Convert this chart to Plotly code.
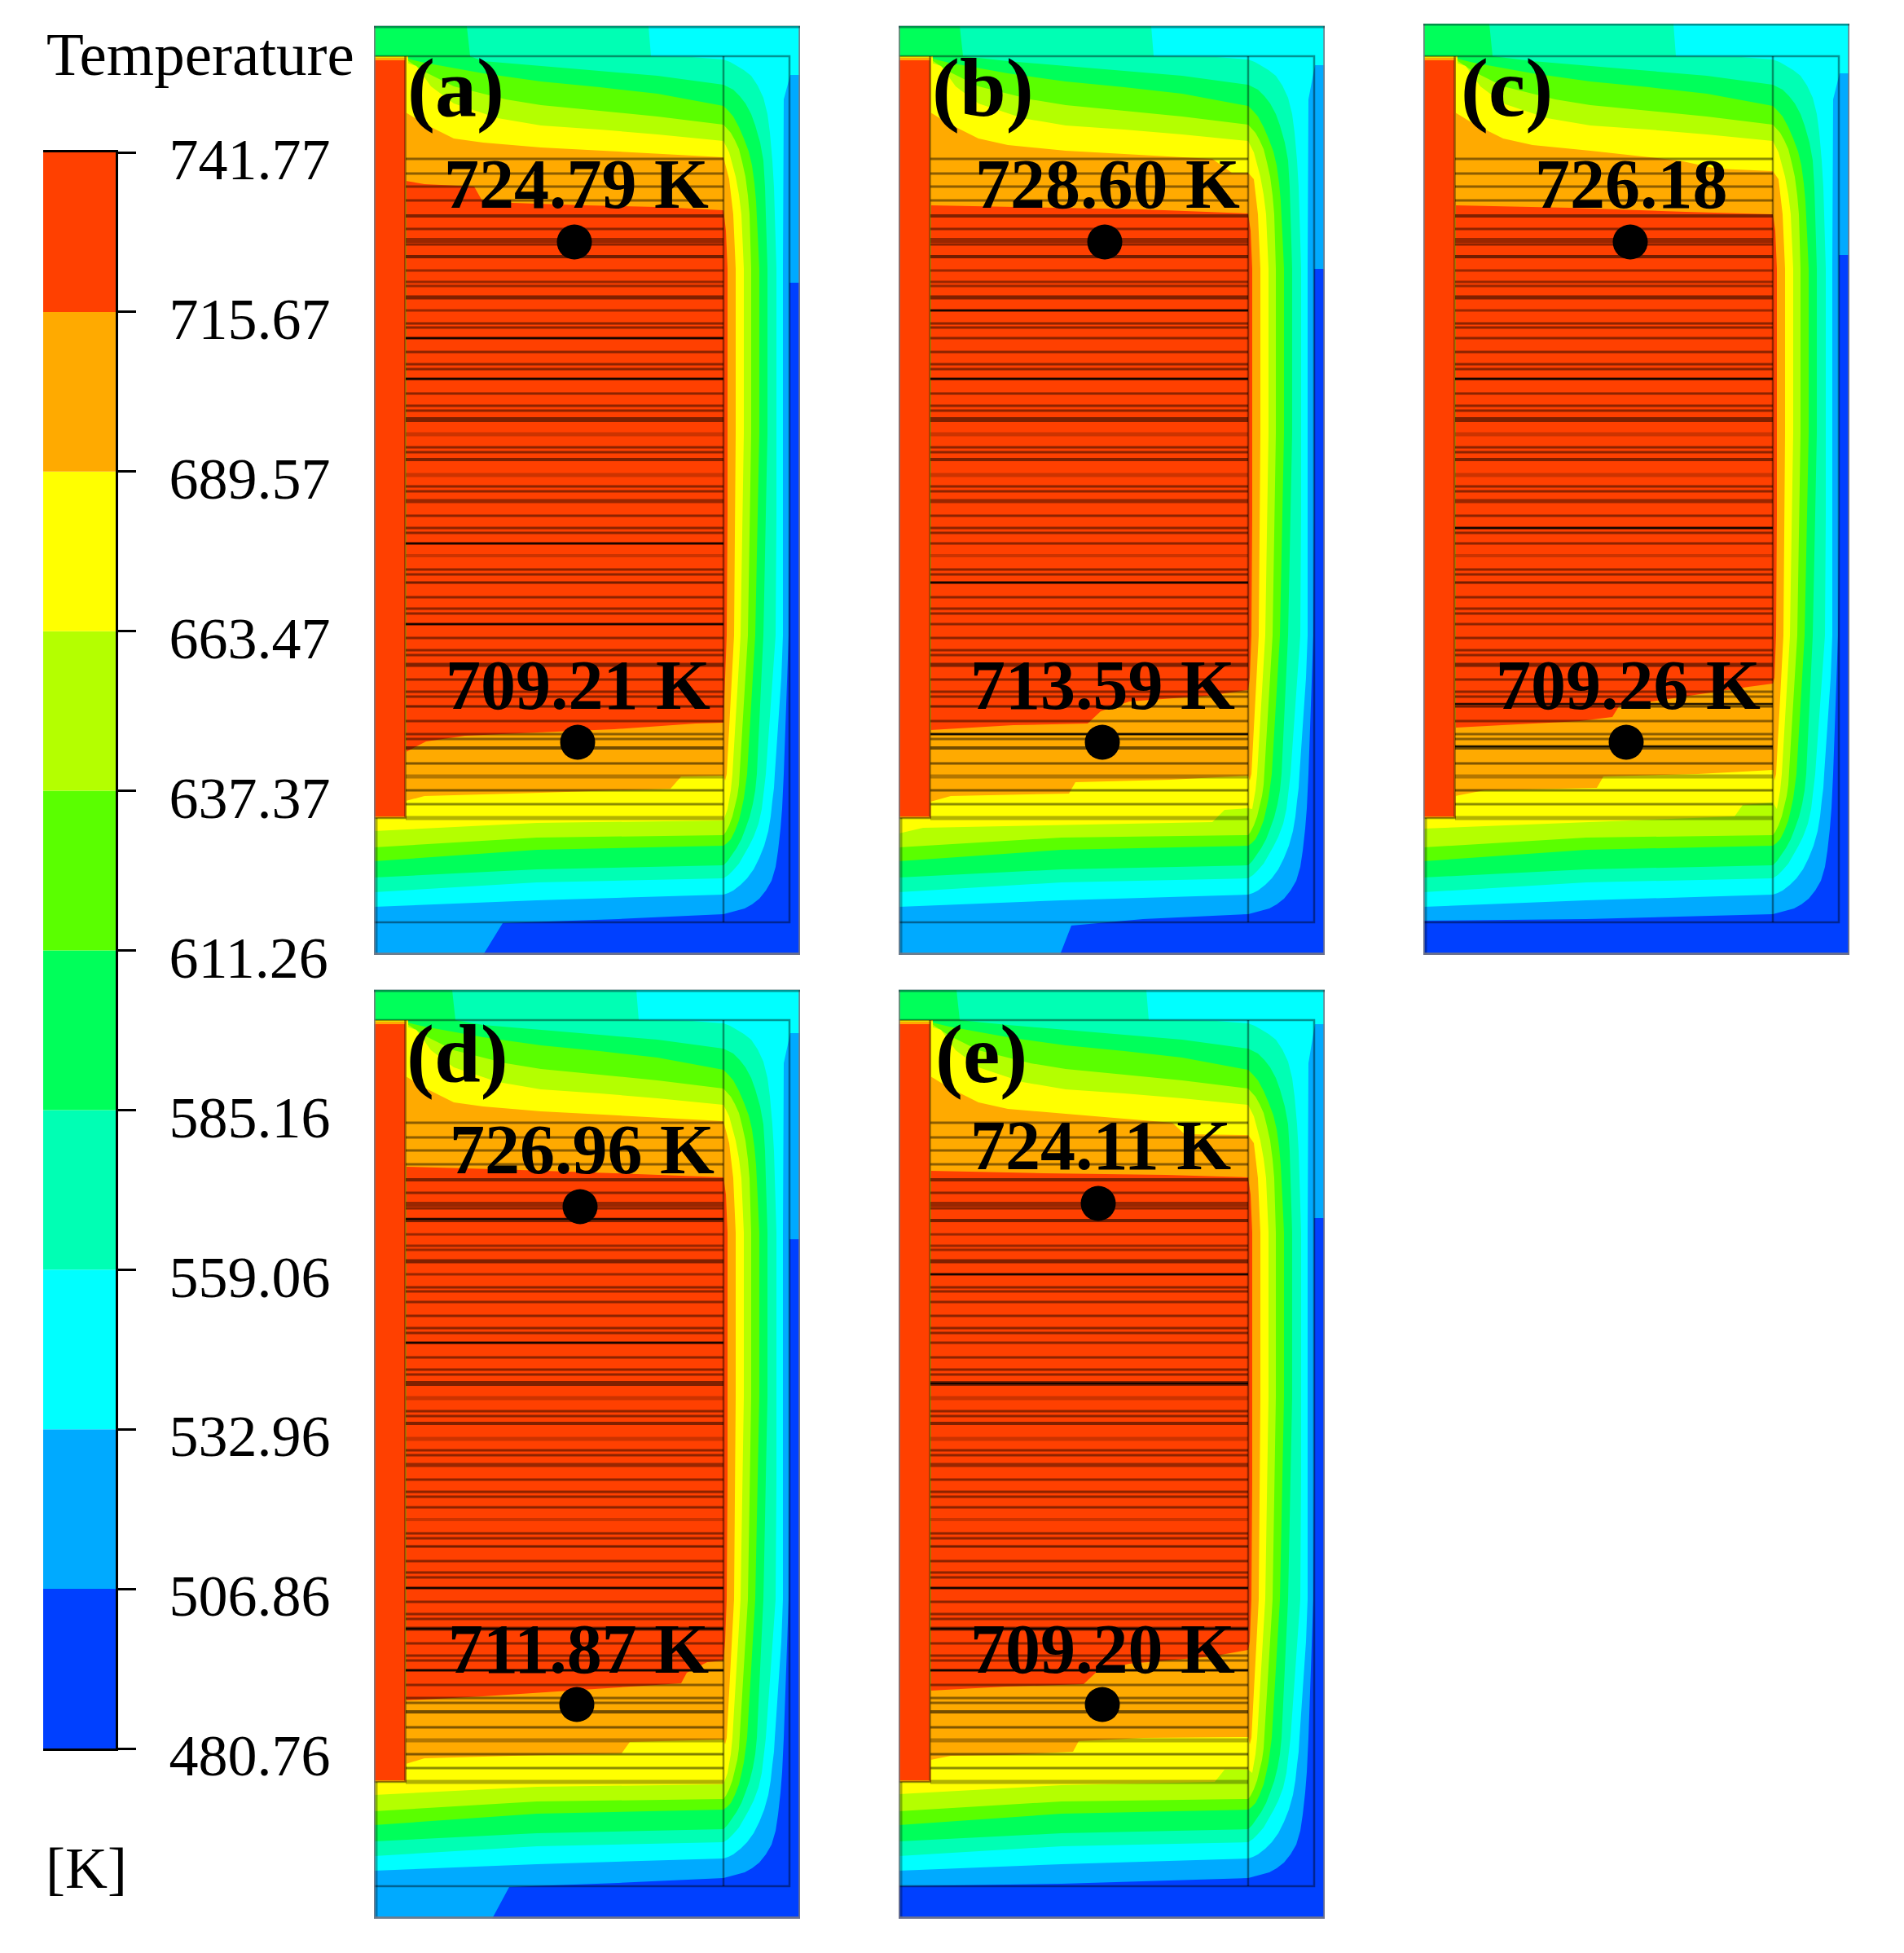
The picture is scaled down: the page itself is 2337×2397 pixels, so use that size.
import plotly.graph_objects as go

W, H = 2337, 2397
PW, PH = 523, 1140

# ---- colour legend -------------------------------------------------------
levels = [480.76, 506.86, 532.96, 559.06, 585.16, 611.26, 637.37, 663.47, 689.57, 715.67, 741.77]
level_text = ["480.76", "506.86", "532.96", "559.06", "585.16", "611.26", "637.37", "663.47", "689.57", "715.67", "741.77"]
band_colors = ["#0040FF", "#00AAFF", "#00FFFF", "#00FFB4", "#00FF5A", "#5AFF00", "#B4FF00", "#FFFF00", "#FFAA00", "#FF4000"]

# ---- panels --------------------------------------------------------------
panel_names = ["(a)", "(b)", "(c)", "(d)", "(e)"]
panel_x0 = [459, 1103, 1747, 459, 1103]
panel_y0 = [32, 32, 32, 1215, 1215]
panel_top = [0, 0, -3, 0, 0]
label_pos = [(100, 76), (103, 76), (102, 76), (102, 78), (101, 78)]

top_text = ["724.79 K", "728.60 K", "726.18", "726.96 K", "724.11 K"]
top_text_pos = [(248, 194), (256, 194), (255, 194), (255, 196), (248, 191)]
bot_text = ["709.21 K", "713.59 K", "709.26 K", "711.87 K", "709.20 K"]
bot_text_pos = [(250, 809), (250, 809), (251, 809), (251, 809), (250, 809)]
dot_top = [(246, 265), (253, 265), (254, 265), (253, 266), (245, 262)]
dot_bot = [(250, 879), (250, 879), (249, 879), (249, 877), (250, 877)]

# per panel features of the temperature field (panel pixel units)
strip_559 = [337, 310, 307, 322, 304]
strip_585 = [114, 75, 81, 96, 71]
lightblue_top = [60, 48, 58, 53, 42]
blue_top = [315, 298, 281, 306, 280]

floor_507_a = [(300, 1096), (158, 1101), (134, 1140), (0, 1140)]
floor_507_b = [(300, 1096), (212, 1104), (198, 1140), (0, 1140)]
floor_507_c = [(200, 1096), (0, 1098)]
floor_507_d = [(300, 1096), (166, 1101), (145, 1140), (0, 1140)]
floor_507_e = [(200, 1097), (0, 1100)]
floor_507 = [floor_507_a, floor_507_b, floor_507_c, floor_507_d, floor_507_e]

# outer arcs of each isotherm
arc_507 = [(510, 600), (509, 748), (503, 918), (502, 940), (501, 960), (499, 985), (496, 1012), (493, 1032), (488, 1049), (481, 1061), (473, 1071), (464, 1078), (455, 1083), (444, 1086), (436, 1088), (429, 1090)]
arc_533 = [(503, 90), (502, 298), (502, 748), (500, 800), (492, 918), (491, 935), (489, 951), (487, 970), (484, 988), (479, 1006), (473, 1021), (466, 1035), (458, 1046), (450, 1054), (441, 1061), (435, 1064), (429, 1066), (200, 1073), (0, 1081)]
arc_559 = [(390, 38), (429, 41), (437, 44), (444, 48), (454, 54), (463, 61), (471, 73), (478, 88), (483, 108), (486, 131), (489, 165), (491, 198), (494, 298), (494, 600), (493, 748), (481, 918), (479, 935), (476, 961), (472, 979), (466, 995), (460, 1007), (454, 1018), (448, 1028), (441, 1036), (435, 1042), (429, 1046), (200, 1051), (0, 1063)]
arc_585 = [(134, 43), (241, 52), (348, 61), (429, 72), (435, 75), (441, 78), (449, 86), (456, 95), (463, 108), (468, 122), (474, 143), (478, 165), (480, 198), (481, 231), (483, 298), (483, 500), (478, 748), (470, 918), (468, 938), (465, 955), (461, 971), (456, 985), (451, 998), (445, 1009), (439, 1018), (434, 1025), (429, 1030), (200, 1035), (0, 1045)]
arc_611 = [(0, 37), (41, 40), (62, 45), (134, 58), (205, 68), (277, 75), (348, 83), (429, 98), (435, 104), (441, 111), (448, 124), (454, 138), (460, 154), (464, 171), (467, 193), (469, 215), (471, 255), (473, 298), (473, 500), (468, 748), (458, 918), (454, 948), (451, 962), (448, 975), (443, 988), (438, 998), (433, 1003), (429, 1006), (200, 1011), (0, 1025)]
arc_637 = [(0, 37), (41, 42), (62, 56), (98, 74), (162, 90), (205, 97), (277, 104), (348, 111), (429, 121), (438, 131), (443, 140), (448, 151), (452, 167), (456, 185), (459, 208), (461, 231), (463, 298), (463, 500), (459, 748), (449, 918), (448, 931), (446, 945), (443, 958), (440, 970), (436, 981), (432, 989), (429, 993), (200, 996), (0, 1008)]
arc_663 = [(0, 37), (40, 45), (52, 49), (70, 74), (98, 95), (152, 113), (205, 122), (277, 127), (348, 133), (429, 141), (436, 155), (440, 169), (444, 185), (448, 207), (451, 231), (454, 298), (454, 500), (450, 748), (440, 918), (438, 938), (434, 961)]
floor_663_a = [(429, 975), (200, 978), (0, 988)]
floor_663_b = [(429, 960), (400, 962), (385, 977), (165, 981), (30, 984), (0, 991)]
floor_663_c = [(429, 953), (392, 956), (382, 970), (0, 985)]
floor_663_d = [(429, 975), (200, 978), (0, 988)]
floor_663_e = [(429, 957), (400, 957), (388, 972), (200, 976), (0, 987)]
floor_663 = [floor_663_a, floor_663_b, floor_663_c, floor_663_d, floor_663_e]

roof_689_a = [(39, 106), (62, 120), (98, 138), (134, 143), (205, 149), (277, 153), (348, 157), (429, 161)]
roof_689_b = [(39, 106), (62, 120), (98, 138), (134, 146), (205, 153), (299, 158), (385, 163), (409, 180), (429, 180)]
roof_689_c = [(39, 106), (62, 120), (98, 138), (134, 146), (205, 153), (314, 165), (360, 175), (429, 178)]
roof_689_d = [(39, 106), (62, 120), (98, 138), (134, 143), (205, 149), (277, 153), (348, 157), (429, 161)]
roof_689_e = [(39, 106), (62, 120), (98, 138), (134, 146), (205, 152), (336, 163), (351, 177), (429, 178)]
roof_689 = [roof_689_a, roof_689_b, roof_689_c, roof_689_d, roof_689_e]
side_689 = [(436, 188), (441, 231), (444, 298), (444, 500), (442, 748), (433, 918), (431, 926)]
floor_689_a = [(429, 920), (377, 921), (364, 936), (205, 941), (62, 945), (39, 951)]
floor_689_b = [(429, 920), (334, 925), (217, 928), (209, 942), (64, 945), (39, 952)]
floor_689_c = [(429, 913), (337, 918), (221, 921), (213, 935), (75, 938), (39, 945)]
floor_689_d = [(429, 920), (314, 923), (304, 937), (170, 940), (62, 943), (39, 950)]
floor_689_e = [(429, 917), (300, 918), (221, 922), (214, 935), (131, 939), (64, 940), (39, 945)]
floor_689 = [floor_689_a, floor_689_b, floor_689_c, floor_689_d, floor_689_e]

roof_715_a = [(39, 190), (62, 194), (123, 197), (132, 213), (170, 217), (259, 220), (348, 222), (429, 226)]
roof_715_b = [(39, 220), (300, 225), (429, 230)]
roof_715_c = [(39, 220), (179, 223), (322, 228), (429, 231)]
roof_715_d = [(39, 217), (150, 220), (296, 225), (429, 230)]
roof_715_e = [(39, 222), (178, 225), (328, 227), (429, 230)]
roof_715 = [roof_715_a, roof_715_b, roof_715_c, roof_715_d, roof_715_e]
side_715 = [(432, 251), (434, 298), (434, 600), (433, 748), (431, 800)]
floor_715_a = [(429, 855), (395, 856), (295, 863), (223, 866), (112, 871), (64, 878), (39, 891)]
floor_715_b = [(429, 815), (378, 822), (283, 829), (248, 841), (232, 856), (141, 858), (39, 864)]
floor_715_c = [(429, 807), (399, 811), (302, 826), (240, 835), (232, 848), (192, 853), (40, 861)]
floor_715_d = [(429, 823), (409, 825), (384, 838), (377, 851), (270, 858), (220, 862), (134, 867), (39, 872)]
floor_715_e = [(429, 810), (385, 818), (283, 827), (243, 837), (227, 852), (131, 855), (39, 860)]
floor_715 = [floor_715_a, floor_715_b, floor_715_c, floor_715_d, floor_715_e]

block_fringe = [(0, 37), (42, 37), (42, 100), (39, 106), (0, 106)]
block_edge = [(0, 39), (40, 39), (40, 972), (0, 972)]
block_hot = [(0, 42), (38, 42), (38, 970), (0, 970)]

# horizontal plates in the stack
plate_y = [163, 181, 197, 214, 233, 249, 263, 268, 283, 300, 314, 319, 333, 349, 365, 370, 383, 400, 415, 421, 433, 451, 466, 472, 483, 501, 517, 523, 532, 551, 565, 571, 583, 601, 616, 622, 635, 650, 667, 673, 683, 701, 715, 721, 734, 751, 766, 772, 784, 802, 817, 823, 835, 853, 869, 875, 886, 905, 921, 938, 955, 972]
plate_w = [3, 3, 3, 3, 4, 3, 6, 3, 4, 3, 3, 3, 5, 3, 3, 3, 3, 3, 3, 3, 3, 3, 3, 3, 6, 5, 3, 3, 4, 5, 3, 3, 5, 3, 3, 3, 3, 4, 3, 3, 3, 3, 3, 3, 3, 3, 3, 3, 5, 3, 3, 3, 3, 3, 3, 3, 4, 3, 5, 3, 3, 5]
plate_a = [.45, .45, .45, .45, .5, .45, .4, .45, .55, .4, .4, .4, .5, .4, .45, .45, .45, .45, .45, .45, .45, .45, .45, .45, .5, .2, .45, .45, .5, .2, .45, .45, .4, .45, .45, .45, .45, .2, .45, .45, .55, .45, .45, .45, .45, .45, .45, .45, .5, .45, .45, .45, .55, .45, .45, .45, .55, .5, .3, .5, .45, .3]
dark_plates = [[383, 433, 635, 734], [349, 433, 683, 869], [433, 616, 832, 884], [281, 433, 734, 784, 835], [349, 483, 734, 784, 835]]


def add_poly(fig, pts, color, ax):
    fig.add_trace(go.Scatter(x=[p[0] for p in pts], y=[p[1] for p in pts], fill="toself", fillcolor=color,
                             mode="lines", line=dict(width=0), hoverinfo="skip", showlegend=False,
                             xaxis=f"x{ax}", yaxis=f"y{ax}"))


def add_line(fig, xs, ys, color, width, ax):
    fig.add_trace(go.Scatter(x=xs, y=ys, mode="lines", line=dict(color=color, width=width), hoverinfo="skip",
                             showlegend=False, xaxis=f"x{ax}", yaxis=f"y{ax}"))


fig = go.Figure()
layout = dict(width=W, height=H, margin=dict(l=0, r=0, t=0, b=0, autoexpand=False), paper_bgcolor="white", plot_bgcolor="white",
              showlegend=False, annotations=[])
serif = "Liberation Serif"

for i in range(5):
    ax = i + 1
    x0, y0, top = panel_x0[i], panel_y0[i], panel_top[i]
    layout[f"xaxis{ax}"] = dict(domain=[x0 / W, (x0 + PW) / W], range=[0, PW], visible=False, fixedrange=True, anchor=f"y{ax}")
    layout[f"yaxis{ax}"] = dict(domain=[1 - (y0 + PH) / H, 1 - (y0 - 3) / H], range=[PH, -3], visible=False, fixedrange=True, anchor=f"x{ax}")

    regions = [
        ([(0, top), (PW, top), (PW, PH), (0, PH)], band_colors[0]),
        ([(0, top), (PW, top), (PW, blue_top[i]), (510, blue_top[i])] + arc_507 + floor_507[i], band_colors[1]),
        ([(0, top), (PW, top), (PW, lightblue_top[i]), (511, lightblue_top[i])] + arc_533, band_colors[2]),
        ([(0, top), (strip_559[i], top), (strip_559[i] + 3, 37)] + arc_559, band_colors[3]),
        ([(0, top), (strip_585[i], top), (strip_585[i] + 4, 37)] + arc_585, band_colors[4]),
        (arc_611, band_colors[5]),
        (arc_637, band_colors[6]),
        (arc_663 + floor_663[i], band_colors[7]),
        (roof_689[i] + side_689 + floor_689[i], band_colors[8]),
        (roof_715[i] + side_715 + floor_715[i], band_colors[9]),
        (block_fringe, band_colors[7]),
        (block_edge, band_colors[8]),
        (block_hot, band_colors[9]),
    ]
    for pts, col in regions:
        add_poly(fig, pts, col, ax)

    # plates: grouped by style
    styles = {}
    for y, w, a in zip(plate_y, plate_w, plate_a):
        styles.setdefault((w, a), []).append(y)
    for (w, a), ys in styles.items():
        xs, yy = [], []
        for y in ys:
            xs += [39, 429, None]
            yy += [y, y, None]
        add_line(fig, xs, yy, f"rgba(0,0,0,{a})", w, ax)
    xs, yy = [], []
    for y in dark_plates[i]:
        xs += [39, 429, None]
        yy += [y, y, None]
    add_line(fig, xs, yy, "rgba(0,0,0,0.85)", 2.5, ax)

    # mesh frame
    add_line(fig, [0, 510, 510, 0], [37, 37, 1100, 1100], "rgba(0,0,0,0.42)", 2.5, ax)
    add_line(fig, [429, 429], [37, 1100], "rgba(0,0,0,0.42)", 2.5, ax)
    add_line(fig, [38.5, 38.5, 0], [37, 972, 972], "rgba(0,0,0,0.42)", 2.5, ax)
    add_line(fig, [3, 3], [972, PH], "rgba(0,0,0,0.3)", 3, ax)
    # panel border
    add_line(fig, [0, 0, PW, PW], [top, PH - 1, PH - 1, top], "rgba(120,120,130,0.9)", 3.5, ax)
    add_line(fig, [0, PW], [top + 1, top + 1], "rgba(0,60,60,0.55)", 3, ax)

    # points
    fig.add_trace(go.Scatter(x=[dot_top[i][0], dot_bot[i][0]], y=[dot_top[i][1], dot_bot[i][1]], mode="markers",
                             marker=dict(color="black", size=43, line=dict(width=0)), hoverinfo="skip",
                             showlegend=False, xaxis=f"x{ax}", yaxis=f"y{ax}"))
    for txt, pos, size in [(top_text[i], top_text_pos[i], 86), (bot_text[i], bot_text_pos[i], 86), (panel_names[i], label_pos[i], 102)]:
        layout["annotations"].append(dict(text=f"<b>{txt}</b>", x=pos[0], y=pos[1], xref=f"x{ax}", yref=f"y{ax}",
                                          showarrow=False, xanchor="center", yanchor="middle",
                                          font=dict(family=serif, size=size, color="black")))

# legend bar
for k, col in enumerate(band_colors):
    fig.add_trace(go.Bar(x=[1], y=[levels[k + 1] - levels[k]], base=[levels[k]], width=[1], marker=dict(color=col, line=dict(width=0)),
                         hoverinfo="skip", showlegend=False, xaxis="x6", yaxis="y6"))
layout["xaxis6"] = dict(domain=[53 / W, 142 / W], range=[0.5, 1.5], anchor="y6", showticklabels=False, ticks="", showgrid=False,
                        zeroline=False, showline=True, linecolor="black", linewidth=3, mirror=True, fixedrange=True)
layout["yaxis6"] = dict(domain=[1 - 2146 / H, 1 - 187 / H], range=[levels[0], levels[-1]], anchor="x6", side="right",
                        tickmode="array", tickvals=levels, ticktext=level_text, ticks="outside", ticklen=22, tickwidth=3,
                        tickcolor="black", showgrid=False, zeroline=False, showline=True, linecolor="black", linewidth=3,
                        tickfont=dict(family=serif, size=72, color="black"), ticklabelstandoff=26, ticklabelshift=8, fixedrange=True)
layout["barmode"] = "overlay"
layout["annotations"].append(dict(text="Temperature", x=55 / W, y=1 - 66 / H, xref="paper", yref="paper", showarrow=False,
                                  xanchor="left", yanchor="middle", font=dict(family=serif, size=75, color="black")))
layout["annotations"].append(dict(text="[K]", x=54 / W, y=1 - 2293 / H, xref="paper", yref="paper", showarrow=False,
                                  xanchor="left", yanchor="middle", font=dict(family=serif, size=72, color="black")))

fig.update_layout(**layout)
fig.write_html("out.html", post_script="document.body.style.margin='0';", config=dict(displayModeBar=False))
